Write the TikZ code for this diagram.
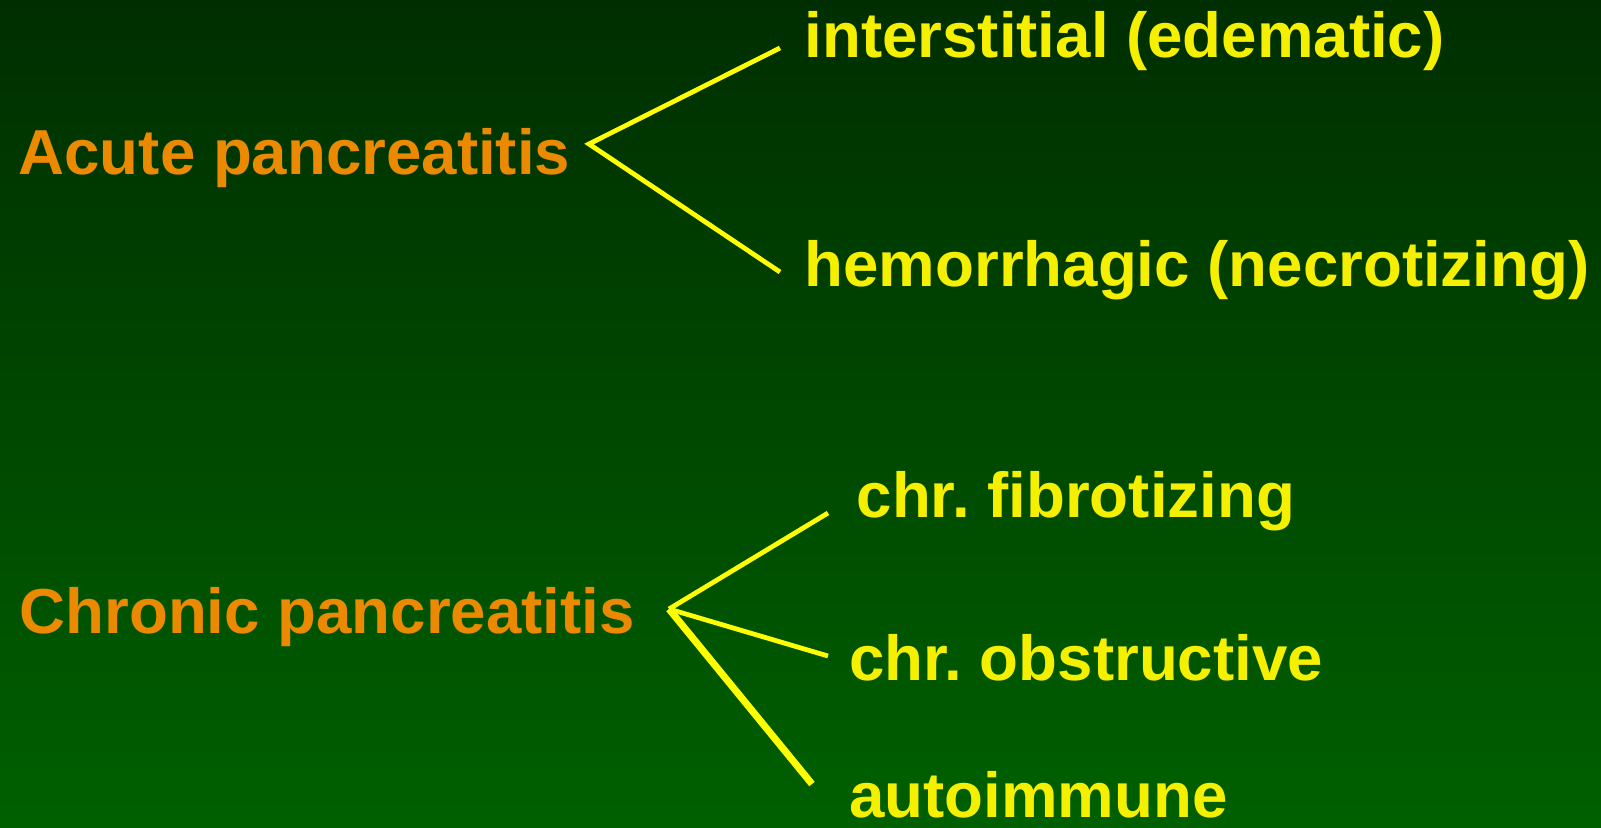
\documentclass[tikz,border=0pt]{standalone}
\usepackage{tikz}
\usetikzlibrary{positioning, calc}
\usepackage{fontspec}
\setmainfont{Liberation Sans}
\usepackage{xcolor}
\definecolor{topgreen}{RGB}{0,46,0}
\definecolor{bottomgreen}{RGB}{0,96,0}
\definecolor{headorange}{RGB}{235,138,0}
\definecolor{typeyellow}{RGB}{245,240,0}
\definecolor{branchyellow}{RGB}{255,255,0}
\frenchspacing

\begin{document}
\begin{tikzpicture}[
        main/.style={anchor=base west, inner sep=0pt, text=headorange, font=\fontsize{18.1}{21}\selectfont\bfseries},
        subtype/.style={anchor=base west, inner sep=0pt, text=typeyellow, font=\fontsize{18.1}{21}\selectfont\bfseries},
        branch/.style={draw=branchyellow, line width=1.35pt},
        heavybranch/.style={draw=branchyellow, line width=2pt}
    ]
        % background
        \useasboundingbox (0,0) rectangle (16.01,8.27);
        \fill[top color=topgreen, bottom color=bottomgreen] (0,0) rectangle (16.01,8.27);

        \node[main] (acute) at (0.18,6.53) {Acute pancreatitis};
        \node[subtype] (inter) at (8.04,7.70) {interstitial (edematic)};
        \node[subtype] (hemo) at (8.04,5.41) {hemorrhagic (necrotizing)};

        \node[main] (chronic) at (0.19,1.94) {Chronic pancreatitis};
        \node[subtype] (fibro) at (8.56,3.10) {chr. fibrotizing};
        \node[subtype] (obstr) at (8.485,1.47) {chr. obstructive};
        \node[subtype] (autoim) at (8.485,0.1) {autoimmune};

        \coordinate (acutefork) at (5.89,6.83);
        \coordinate (chronicfork) at (6.69,2.18);

        \draw[branch] ($(inter.base west)+(-0.24,0.09)$) -- (acutefork) -- ($(hemo.base west)+(-0.24,0.14)$);
        \draw[branch] (chronicfork) -- ($(fibro.base west)+(-0.28,0.04)$);
        \draw[branch] (chronicfork) -- ($(obstr.base west)+(-0.205,0.24)$);
        \draw[heavybranch] (chronicfork) -- ($(autoim.base west)+(-0.365,0.33)$);
    \end{tikzpicture}
\end{document}
